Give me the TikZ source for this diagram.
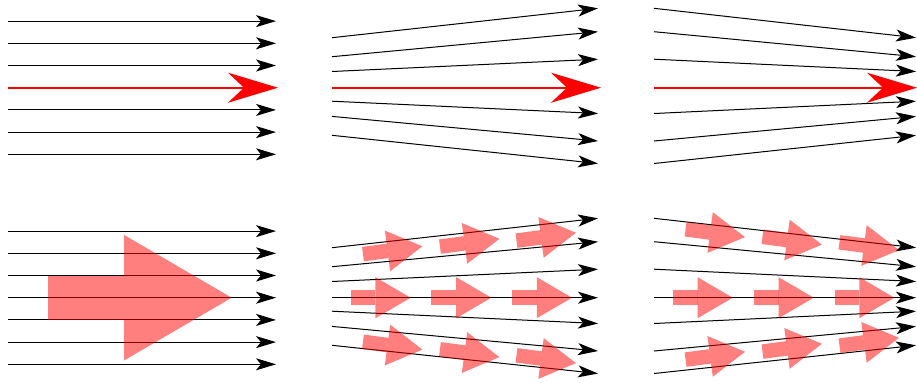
\documentclass[tikz,border=0pt]{standalone}
\usepackage{tikz}
\usetikzlibrary{arrows.meta}

\tikzset{
  fieldline/.style={line width=0.5pt, -{Stealth[length=10pt,width=6pt,inset=2.5pt]}},
  mainline/.style={red, line width=1pt, -{Stealth[length=25pt,width=15pt,inset=8pt]}},
  flux/.style={fill=red, fill opacity=0.5},
  fluxarrow/.pic={
    \fill[flux] (-91.7,-22.2) rectangle (-16,22.2);
    \fill[flux] (-16,-62.8) -- (91.7,0) -- (-16,62.8) -- cycle;
  }
}

\begin{document}
\begin{tikzpicture}[x=0.5pt, y=-0.5pt]
\useasboundingbox (0,0) rectangle (917,382);
% top row: field lines with the mean direction
\foreach \dy in {-66.6,-44.4,-22.2,22.2,44.4,66.6} { \draw[fieldline] (8,87.7+\dy) -- (276,87.7+\dy); }
\draw[mainline] (8,87.7) -- (278,87.7);
\foreach \da/\db in {-50/-79.4,-31/-56,-16.2/-28.5,13.5/25.8,28.7/53.3,47.6/75.8} { \draw[fieldline] (332,87.7+\da) -- (598,87.7+\db); }
\draw[mainline] (332,87.7) -- (601,87.7);
\foreach \da/\db in {-50/-79.4,-31/-56,-16.2/-28.5,13.5/25.8,28.7/53.3,47.6/75.8} { \draw[fieldline] (654,87.7+\db) -- (916,87.7+\da); }
\draw[mainline] (654,87.7) -- (917,87.7);
% bottom row: field lines with flux arrows
\foreach \dy in {-66.6,-44.4,-22.2,0,22.2,44.4,66.6} { \draw[fieldline] (8,297.7+\dy) -- (276,297.7+\dy); }
\pic at (140,297.7) {fluxarrow};
\foreach \da/\db in {-50/-79.4,-31/-56,-16.2/-28.5,0/0,13.5/25.8,28.7/53.3,47.6/75.8} { \draw[fieldline] (332,297.7+\da) -- (598,297.7+\db); }
\foreach \cx/\dy/\ang in {61/-47.5/7.5,138/-55/7.5,214.5/-61/7.5,49/0/0,129.7/0/0,210.3/0/0,61/48/-7.5,138/55.5/-7.5,214.5/61.5/-7.5} { \pic[scale=0.327, rotate=\ang] at (331.7+\cx,297.7+\dy) {fluxarrow}; }
\foreach \da/\db in {-50/-79.4,-31/-56,-16.2/-28.5,0/0,13.5/25.8,28.7/53.3,47.6/75.8} { \draw[fieldline] (654,297.7+\db) -- (916,297.7+\da); }
\foreach \cx/\dy/\ang in {61.3/-64.5/-7.5,138.2/-57/-7.5,215.2/-51.5/-7.5,48.8/0/0,129.8/0/0,210.5/0/0,61.3/58/7.5,138.2/50/7.5,215.2/44/7.5} { \pic[scale=0.327, rotate=\ang] at (654+\cx,297.7+\dy) {fluxarrow}; }
\end{tikzpicture}
\end{document}
